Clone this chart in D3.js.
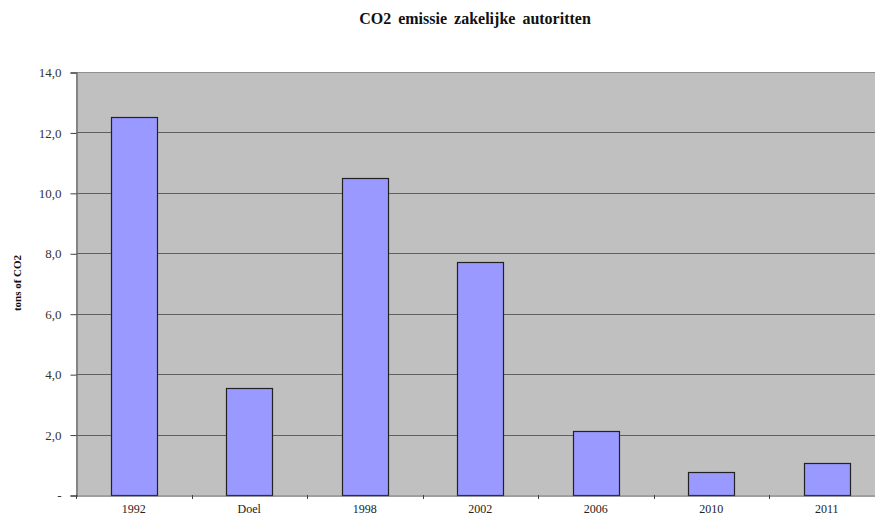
<!DOCTYPE html>
<html><head><meta charset="utf-8">
<script src="https://cdn.jsdelivr.net/npm/d3@7"></script>
<style>body{margin:0;background:#fff;}svg{display:block;}</style>
</head><body>
<script>
const categories = ["1992","Doel","1998","2002","2006","2010","2011"];
const values = [12.5, 3.55, 10.5, 7.72, 2.13, 0.76, 1.07];
const yTicks = [0,2,4,6,8,10,12,14];
const title = "CO2 emissie zakelijke autoritten";
const yLabel = "tons of CO2";

const FONT = "'Liberation Serif', 'Times New Roman', 'DejaVu Serif', serif";
const W = 875, H = 516;
const m = {left:76, top:72, bottom:495};
const plotRight = 76 + 7*115.5;
const svg = d3.select("body").append("svg").attr("width",W).attr("height",H)
  .style("font-family", FONT);

const x = d3.scaleBand().domain(categories).range([m.left, plotRight]).paddingInner(0.6).paddingOuter(0.3);
const xb = d3.scaleBand().domain(categories).range([m.left, plotRight]);
const y = d3.scaleLinear().domain([0,14]).range([m.bottom, m.top]);

svg.append("rect").attr("x",m.left).attr("y",m.top).attr("width",plotRight-m.left).attr("height",m.bottom-m.top).attr("fill","#c0c0c0");
svg.append("line").attr("x1",m.left).attr("x2",plotRight).attr("y1",m.top+0.5).attr("y2",m.top+0.5).attr("stroke","#909090");

svg.append("g").selectAll("line").data(yTicks.filter(d=>d>0 && d<14)).join("line")
  .attr("x1",m.left).attr("x2",plotRight)
  .attr("y1",d=>Math.round(y(d))+0.5).attr("y2",d=>Math.round(y(d))+0.5)
  .attr("stroke","#606060").attr("stroke-width",1);

svg.append("g").selectAll("rect").data(values).join("rect")
  .attr("x",(d,i)=>Math.round(x(categories[i]))+0.5)
  .attr("y",d=>Math.round(y(d))+0.5)
  .attr("width",Math.round(x.bandwidth()))
  .attr("height",d=>Math.round(m.bottom - y(d)))
  .attr("fill","#9999ff").attr("stroke","#222").attr("stroke-width",1.2);

const yAxis = d3.axisLeft(y).tickValues(yTicks).tickSize(6).tickPadding(9)
  .tickFormat(d=> d===0 ? "-" : d3.format(".1f")(d).replace(".",","));
const gy = svg.append("g").attr("transform",`translate(${m.left+0.5},0.5)`).call(yAxis);
gy.attr("font-family",FONT).attr("font-size",13);
gy.select(".domain").attr("stroke","#707070").attr("stroke-width",1.5);
gy.selectAll(".tick line").attr("stroke","#404040");
gy.selectAll("text").attr("fill","#333");

const xAxis = d3.axisBottom(xb).tickSize(0).tickPadding(9);
const gx = svg.append("g").attr("transform",`translate(0,${m.bottom+0.5})`).call(xAxis);
gx.attr("font-family",FONT).attr("font-size",12);
gx.select(".domain").attr("stroke","#404040");
gx.selectAll("text").attr("fill","#222");
svg.append("g").selectAll("line").data(categories.slice(1)).join("line")
  .attr("x1",d=>Math.round(xb(d))+0.5).attr("x2",d=>Math.round(xb(d))+0.5)
  .attr("y1",m.bottom).attr("y2",m.bottom+4).attr("stroke","#404040");
svg.append("line").attr("x1",m.left+0.5).attr("x2",m.left+0.5).attr("y1",m.bottom).attr("y2",m.bottom+4).attr("stroke","#404040");

svg.append("text").attr("x",475).attr("y",24).attr("text-anchor","middle")
  .attr("font-family",FONT).attr("font-weight","bold").attr("font-size",16).attr("word-spacing",3)
  .attr("fill","#111").text(title);
svg.append("text").attr("transform","translate(21,283) rotate(-90)").attr("text-anchor","middle")
  .attr("font-family",FONT).attr("font-weight","bold").attr("font-size",11).attr("fill","#111").text(yLabel);
</script>
</body></html>
